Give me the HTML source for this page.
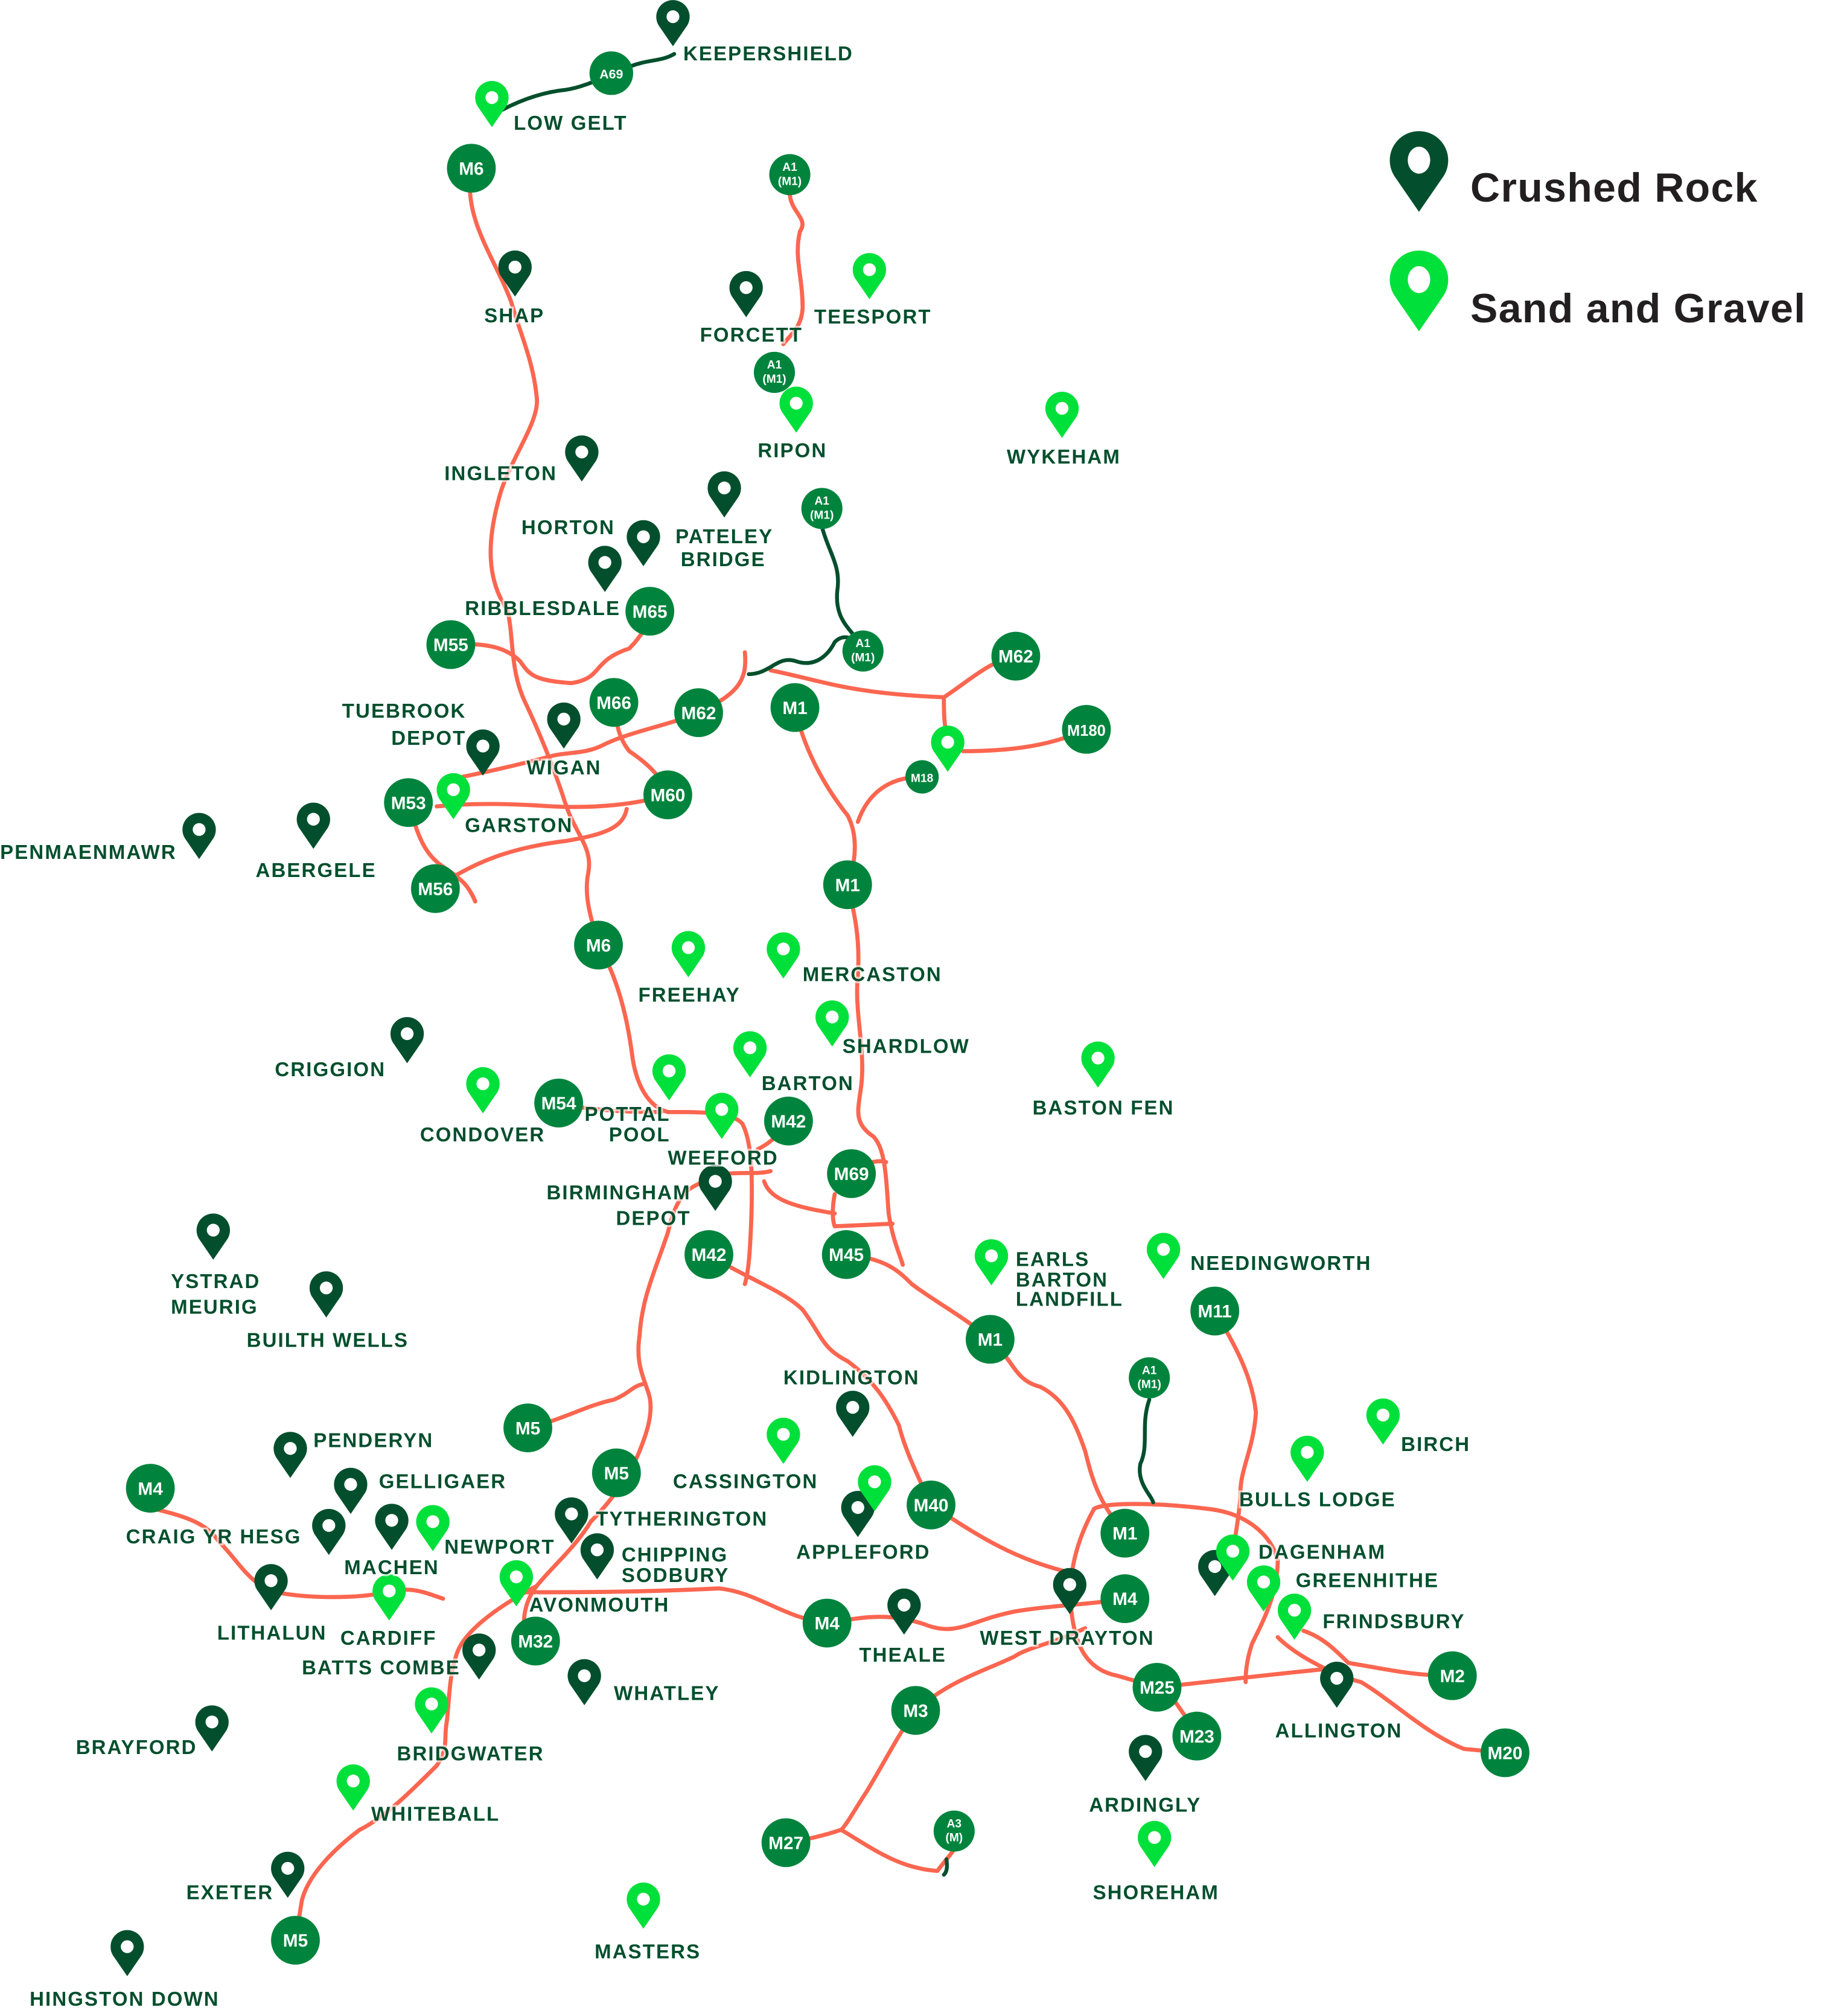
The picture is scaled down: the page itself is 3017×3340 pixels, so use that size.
<!DOCTYPE html>
<html><head><meta charset="utf-8"><style>
html,body{margin:0;padding:0;background:#fff;}
svg{display:block;}
.l{font-family:"Liberation Sans",sans-serif;font-weight:bold;font-size:15.5px;fill:#034f2d;letter-spacing:1px;stroke:#fff;stroke-opacity:.65;stroke-width:3px;paint-order:stroke;}
.b{font-family:"Liberation Sans",sans-serif;font-weight:bold;font-size:14px;fill:#fff;text-anchor:middle;}
.s{font-family:"Liberation Sans",sans-serif;font-weight:bold;font-size:9px;fill:#fff;text-anchor:middle;}
.r{fill:none;stroke:#fb6650;stroke-width:3.2;stroke-linecap:round;stroke-linejoin:round;}
.d{fill:none;stroke:#034f2d;stroke-width:3;stroke-linecap:round;}
.lg{font-family:"Liberation Sans",sans-serif;font-weight:bold;font-size:32px;fill:#231f20;letter-spacing:0.6px;}
</style></head><body>
<svg width="3017" height="3340" viewBox="0 0 1418 1570" xmlns="http://www.w3.org/2000/svg">
<defs>
<path id="pin" d="M0,0 L-11,-16 A13,13 0 1 1 11,-16 Z"/>
<g id="pd"><use href="#pin" fill="#034f2d"/><circle cx="0" cy="-23" r="5" fill="#fff"/></g>
<g id="pl"><use href="#pin" fill="#00e03a"/><circle cx="0" cy="-23" r="5" fill="#fff"/></g>
</defs>

<g class="r">
<path d="M 367,131 C 360,170 385,200 398,235 C 405,260 415,280 418,310 C 420,330 395,360 388,390 C 380,420 378,450 395,475 C 400,495 397,520 408,545 C 420,570 432,600 440,625 C 448,650 462,660 458,680 C 454,700 462,720 466,736"/>
<path d="M 466,736 C 480,760 488,790 492,820 C 495,845 505,862 520,866 C 548,866 570,866 578,875 C 586,890 586,920 585,950 C 584,975 583,990 580,1000"/>
<path d="M 351,502 C 380,500 395,505 405,515 C 412,525 415,530 445,532 C 470,528 460,515 490,505 C 500,495 505,485 506,476"/>
<path d="M 580,508 C 582,530 575,540 544,555 C 520,565 490,570 470,580 C 455,588 440,585 425,590 C 405,595 385,600 360,605"/>
<path d="M 478,547 C 480,565 482,575 490,585 C 505,595 515,605 520,619"/>
<path d="M 520,619 C 500,625 470,630 430,628 C 400,626 370,625 340,628"/>
<path d="M 339,692 C 370,670 400,660 440,655 C 470,650 485,645 488,630"/>
<path d="M 318,625 C 325,650 330,665 345,675 C 360,685 365,690 370,702"/>
<path d="M 619,551 C 625,580 640,610 660,635 C 668,650 667,670 660,689"/>
<path d="M 668,640 C 675,620 690,605 718,605"/>
<path d="M 600,522 C 640,530 660,540 735,543 C 755,530 770,515 791,511"/>
<path d="M 735,543 C 735,555 735,565 738,575"/>
<path d="M 750,585 C 790,585 820,580 846,568"/>
<path d="M 615,150 C 615,165 630,170 623,180 C 618,200 625,215 625,240 C 624,255 616,260 610,268"/>
<path d="M 660,689 C 665,710 670,730 668,760 C 665,790 675,820 670,850 C 668,865 665,875 680,885 C 690,895 690,920 692,945 C 695,965 700,975 703,985"/>
<path d="M 663,914 C 672,905 685,903 690,905"/>
<path d="M 650,930 C 648,940 648,950 650,955 L 695,953"/>
<path d="M 595,920 C 600,935 620,940 650,945"/>
<path d="M 614,873 C 605,885 600,890 590,895"/>
<path d="M 600,912 C 590,915 575,912 560,915"/>
<path d="M 550,920 C 530,925 525,940 520,960 C 510,990 500,1010 498,1040 C 495,1060 500,1070 505,1085 C 510,1100 502,1120 498,1130 C 490,1150 475,1170 460,1185 C 448,1205 430,1220 418,1235 C 410,1245 405,1260 410,1278"/>
<path d="M 411,1112 C 440,1105 455,1095 478,1090 C 490,1085 492,1080 500,1078"/>
<path d="M 552,977 C 580,995 610,1005 625,1020 C 640,1040 640,1050 660,1060 C 680,1075 690,1090 700,1110 C 705,1130 715,1150 725,1172"/>
<path d="M 659,977 C 690,980 700,990 710,1000 C 730,1015 750,1025 771,1043"/>
<path d="M 771,1043 C 790,1060 790,1075 810,1080 C 830,1090 838,1110 845,1130 C 850,1150 855,1170 876,1194"/>
<path d="M 852,1175 C 860,1170 900,1170 940,1175 C 970,1178 990,1195 995,1215 C 995,1240 985,1260 975,1280 C 970,1295 970,1305 970,1310"/>
<path d="M 852,1175 C 838,1200 830,1230 835,1260 C 838,1280 845,1300 870,1305 L 901,1314"/>
<path d="M 901,1314 C 940,1310 980,1305 1030,1300"/>
<path d="M 915,1325 C 925,1340 930,1345 932,1352"/>
<path d="M 946,1021 C 960,1045 975,1070 978,1100 C 976,1130 965,1145 966,1165 C 965,1180 962,1195 960,1210"/>
<path d="M 725,1172 C 760,1195 790,1215 835,1225"/>
<path d="M 120,1175 C 140,1180 160,1185 170,1200 C 185,1215 195,1235 215,1240 C 240,1245 280,1245 300,1240 C 320,1235 330,1240 345,1245"/>
<path d="M 400,1240 C 450,1240 500,1240 560,1237 C 590,1240 610,1260 644,1264 C 670,1260 690,1255 720,1265 C 745,1275 755,1262 790,1255 C 820,1250 845,1250 876,1245"/>
<path d="M 845,1268 C 820,1280 800,1283 790,1290 C 770,1300 740,1308 713,1332"/>
<path d="M 713,1332 C 700,1350 690,1370 675,1395 C 665,1410 660,1420 655,1425 C 640,1430 630,1432 612,1435"/>
<path d="M 655,1425 C 680,1440 700,1455 730,1457 C 735,1450 740,1445 743,1440"/>
<path d="M 995,1275 C 1010,1290 1040,1305 1060,1310 C 1085,1325 1110,1350 1140,1362 L 1172,1365"/>
<path d="M 1015,1270 C 1030,1275 1040,1285 1050,1295 C 1080,1300 1100,1305 1131,1305"/>
<path d="M 418,1235 C 390,1250 360,1270 355,1290 C 350,1305 350,1320 348,1340 C 345,1355 350,1360 340,1375 C 320,1395 300,1415 280,1425 C 260,1440 240,1460 235,1480 L 230,1511"/>
<path d="M 435,859 C 460,865 490,866 515,866"/>
</g>
<g class="d">
<path d="M 383,90 C 400,80 420,72 440,70 C 455,68 470,60 490,52 C 505,46 515,48 525,42"/>
<path d="M 640,410 C 645,430 655,440 652,460 C 650,480 660,488 665,495"/>
<path d="M 583,525 C 600,525 605,510 620,515 C 635,520 645,510 650,500 C 655,495 660,495 668,500"/>
<path d="M 895,1090 C 888,1110 895,1125 888,1140 C 885,1155 897,1165 898,1170"/>
<path d="M 737,1448 C 738,1455 737,1458 735,1460"/>
</g>

<g fill="#00843d">
<circle cx="476" cy="57" r="17"/><circle cx="367" cy="131" r="19"/>
<circle cx="615" cy="136" r="16"/><circle cx="603" cy="290" r="16"/><circle cx="640" cy="396" r="16"/><circle cx="672" cy="507" r="16"/>
<circle cx="506" cy="476" r="19"/><circle cx="351" cy="502" r="19"/><circle cx="791" cy="511" r="19"/>
<circle cx="478" cy="547" r="19"/><circle cx="544" cy="555" r="19"/><circle cx="619" cy="551" r="19"/>
<circle cx="846" cy="568" r="19"/><circle cx="718" cy="605" r="13"/><circle cx="318" cy="625" r="19"/>
<circle cx="520" cy="619" r="19"/><circle cx="339" cy="692" r="19"/><circle cx="660" cy="689" r="19"/>
<circle cx="466" cy="736" r="19"/><circle cx="435" cy="859" r="19"/><circle cx="614" cy="873" r="19"/>
<circle cx="663" cy="914" r="19"/><circle cx="552" cy="977" r="19"/><circle cx="659" cy="977" r="19"/>
<circle cx="946" cy="1021" r="19"/><circle cx="771" cy="1043" r="19"/><circle cx="895" cy="1073" r="16"/>
<circle cx="411" cy="1112" r="19"/><circle cx="480" cy="1147" r="19"/><circle cx="117" cy="1159" r="19"/>
<circle cx="725" cy="1172" r="19"/><circle cx="876" cy="1194" r="19"/><circle cx="876" cy="1245" r="19"/>
<circle cx="417" cy="1278" r="19"/><circle cx="644" cy="1264" r="19"/><circle cx="1131" cy="1305" r="19"/>
<circle cx="901" cy="1314" r="19"/><circle cx="713" cy="1332" r="19"/><circle cx="932" cy="1352" r="19"/>
<circle cx="1172" cy="1365" r="19"/><circle cx="612" cy="1435" r="19"/><circle cx="743" cy="1426" r="16"/>
<circle cx="230" cy="1511" r="19"/>
</g>
<g class="b">
<text x="476" y="61" style="font-size:10px">A69</text><text x="367" y="136">M6</text>
<text x="506" y="481">M65</text><text x="351" y="507">M55</text><text x="791" y="516">M62</text>
<text x="478" y="552">M66</text><text x="544" y="560">M62</text><text x="619" y="556">M1</text>
<text x="846" y="573" style="font-size:12px">M180</text><text x="718" y="609" style="font-size:9px">M18</text><text x="318" y="630">M53</text>
<text x="520" y="624">M60</text><text x="339" y="697">M56</text><text x="660" y="694">M1</text>
<text x="466" y="741">M6</text><text x="435" y="864">M54</text><text x="614" y="878">M42</text>
<text x="663" y="919">M69</text><text x="552" y="982">M42</text><text x="659" y="982">M45</text>
<text x="946" y="1026">M11</text><text x="771" y="1048">M1</text>
<text x="411" y="1117">M5</text><text x="480" y="1152">M5</text><text x="117" y="1164">M4</text>
<text x="725" y="1177">M40</text><text x="876" y="1199">M1</text><text x="876" y="1250">M4</text>
<text x="417" y="1283">M32</text><text x="644" y="1269">M4</text><text x="1131" y="1310">M2</text>
<text x="901" y="1319">M25</text><text x="713" y="1337">M3</text><text x="932" y="1357">M23</text>
<text x="1172" y="1370">M20</text><text x="612" y="1440">M27</text><text x="230" y="1516">M5</text>
</g>
<g class="s">
<text x="615" y="133">A1</text><text x="615" y="144">(M1)</text>
<text x="603" y="287">A1</text><text x="603" y="298">(M1)</text>
<text x="640" y="393">A1</text><text x="640" y="404">(M1)</text>
<text x="672" y="504">A1</text><text x="672" y="515">(M1)</text>
<text x="895" y="1070">A1</text><text x="895" y="1081">(M1)</text>
<text x="743" y="1423">A3</text><text x="743" y="1434">(M)</text>
</g>

<use href="#pd" x="524" y="36"/><use href="#pd" x="401" y="231"/><use href="#pd" x="581" y="247"/>
<use href="#pd" x="453" y="375"/><use href="#pd" x="564" y="403"/><use href="#pd" x="501" y="441"/>
<use href="#pd" x="471" y="461"/><use href="#pd" x="439" y="583"/><use href="#pd" x="376" y="604"/>
<use href="#pd" x="155" y="669"/><use href="#pd" x="244" y="661"/><use href="#pd" x="317" y="828"/>
<use href="#pd" x="557" y="943"/><use href="#pd" x="166" y="981"/><use href="#pd" x="254" y="1026"/>
<use href="#pd" x="664" y="1119"/><use href="#pd" x="226" y="1151"/><use href="#pd" x="273" y="1179"/>
<use href="#pd" x="305" y="1207"/><use href="#pd" x="256" y="1211"/><use href="#pd" x="445" y="1202"/>
<use href="#pd" x="465" y="1230"/><use href="#pd" x="211" y="1254"/><use href="#pd" x="668" y="1197"/>
<use href="#pd" x="373" y="1308"/><use href="#pd" x="455" y="1328"/><use href="#pd" x="704" y="1273"/>
<use href="#pd" x="833" y="1257"/><use href="#pd" x="946" y="1243"/><use href="#pd" x="1041" y="1330"/>
<use href="#pd" x="892" y="1387"/><use href="#pd" x="165" y="1364"/><use href="#pd" x="224" y="1478"/>
<use href="#pd" x="99" y="1539"/>
<use href="#pl" x="383" y="99"/><use href="#pl" x="677" y="233"/><use href="#pl" x="620" y="337"/>
<use href="#pl" x="827" y="341"/><use href="#pl" x="738" y="601"/><use href="#pl" x="353" y="638"/>
<use href="#pl" x="536" y="761"/><use href="#pl" x="610" y="762"/><use href="#pl" x="648" y="815"/>
<use href="#pl" x="584" y="839"/><use href="#pl" x="521" y="857"/><use href="#pl" x="562" y="887"/>
<use href="#pl" x="376" y="867"/><use href="#pl" x="855" y="847"/><use href="#pl" x="772" y="1001"/>
<use href="#pl" x="906" y="996"/><use href="#pl" x="1077" y="1125"/><use href="#pl" x="1018" y="1154"/>
<use href="#pl" x="610" y="1140"/><use href="#pl" x="681" y="1177"/><use href="#pl" x="337" y="1208"/>
<use href="#pl" x="402" y="1251"/><use href="#pl" x="303" y="1262"/><use href="#pl" x="960" y="1231"/>
<use href="#pl" x="984" y="1255"/><use href="#pl" x="1008" y="1277"/><use href="#pl" x="336" y="1350"/>
<use href="#pl" x="275" y="1410"/><use href="#pl" x="899" y="1454"/><use href="#pl" x="501" y="1502"/>

<g class="l">
<text x="532" y="47">KEEPERSHIELD</text><text x="400" y="101">LOW GELT</text>
<text x="377" y="251">SHAP</text><text x="545" y="266">FORCETT</text><text x="634" y="252">TEESPORT</text>
<text x="590" y="356">RIPON</text><text x="784" y="361">WYKEHAM</text><text x="346" y="374">INGLETON</text>
<text x="406" y="416">HORTON</text><text x="526" y="423">PATELEY</text><text x="530" y="441">BRIDGE</text>
<text x="362" y="479">RIBBLESDALE</text>
<text x="363" y="559" text-anchor="end">TUEBROOK</text><text x="363" y="580" text-anchor="end">DEPOT</text>
<text x="410" y="603">WIGAN</text><text x="362" y="648">GARSTON</text>
<text x="0" y="669">PENMAENMAWR</text><text x="199" y="683">ABERGELE</text>
<text x="497" y="780">FREEHAY</text><text x="625" y="764">MERCASTON</text><text x="656" y="820">SHARDLOW</text>
<text x="214" y="838">CRIGGION</text><text x="593" y="849">BARTON</text>
<text x="522" y="873" text-anchor="end">POTTAL</text><text x="522" y="889" text-anchor="end">POOL</text>
<text x="327" y="889">CONDOVER</text><text x="804" y="868">BASTON FEN</text>
<text x="520" y="907">WEEFORD</text>
<text x="538" y="934" text-anchor="end">BIRMINGHAM</text><text x="538" y="954" text-anchor="end">DEPOT</text>
<text x="791" y="986">EARLS</text><text x="791" y="1002">BARTON</text><text x="791" y="1017">LANDFILL</text>
<text x="927" y="989">NEEDINGWORTH</text>
<text x="133" y="1003">YSTRAD</text><text x="133" y="1023">MEURIG</text>
<text x="192" y="1049">BUILTH WELLS</text><text x="610" y="1078">KIDLINGTON</text>
<text x="244" y="1127">PENDERYN</text><text x="1091" y="1130">BIRCH</text>
<text x="524" y="1159">CASSINGTON</text><text x="295" y="1159">GELLIGAER</text>
<text x="965" y="1173">BULLS LODGE</text><text x="464" y="1188">TYTHERINGTON</text>
<text x="98" y="1202">CRAIG YR HESG</text><text x="620" y="1214">APPLEFORD</text>
<text x="484" y="1216">CHIPPING</text><text x="484" y="1232">SODBURY</text>
<text x="980" y="1214">DAGENHAM</text><text x="268" y="1226">MACHEN</text><text x="346" y="1210">NEWPORT</text>
<text x="1009" y="1236">GREENHITHE</text><text x="412" y="1255">AVONMOUTH</text>
<text x="1030" y="1268">FRINDSBURY</text><text x="169" y="1277">LITHALUN</text>
<text x="265" y="1281">CARDIFF</text><text x="763" y="1281">WEST DRAYTON</text><text x="669" y="1294">THEALE</text>
<text x="235" y="1304">BATTS COMBE</text><text x="478" y="1324">WHATLEY</text>
<text x="993" y="1353">ALLINGTON</text><text x="59" y="1366">BRAYFORD</text><text x="309" y="1371">BRIDGWATER</text>
<text x="848" y="1411">ARDINGLY</text><text x="289" y="1418">WHITEBALL</text>
<text x="851" y="1479">SHOREHAM</text><text x="145" y="1479">EXETER</text>
<text x="463" y="1525">MASTERS</text><text x="23" y="1562">HINGSTON DOWN</text>
</g>

<g transform="translate(1105,165) scale(1.75)"><use href="#pin" fill="#034f2d"/><ellipse cx="0" cy="-23" rx="5" ry="6" fill="#fff"/></g>
<g transform="translate(1105,258) scale(1.75)"><use href="#pin" fill="#00e03a"/><ellipse cx="0" cy="-23" rx="5" ry="6" fill="#fff"/></g>
<text class="lg" x="1145" y="157">Crushed Rock</text>
<text class="lg" x="1145" y="251">Sand and Gravel</text>
</svg>
</body></html>
